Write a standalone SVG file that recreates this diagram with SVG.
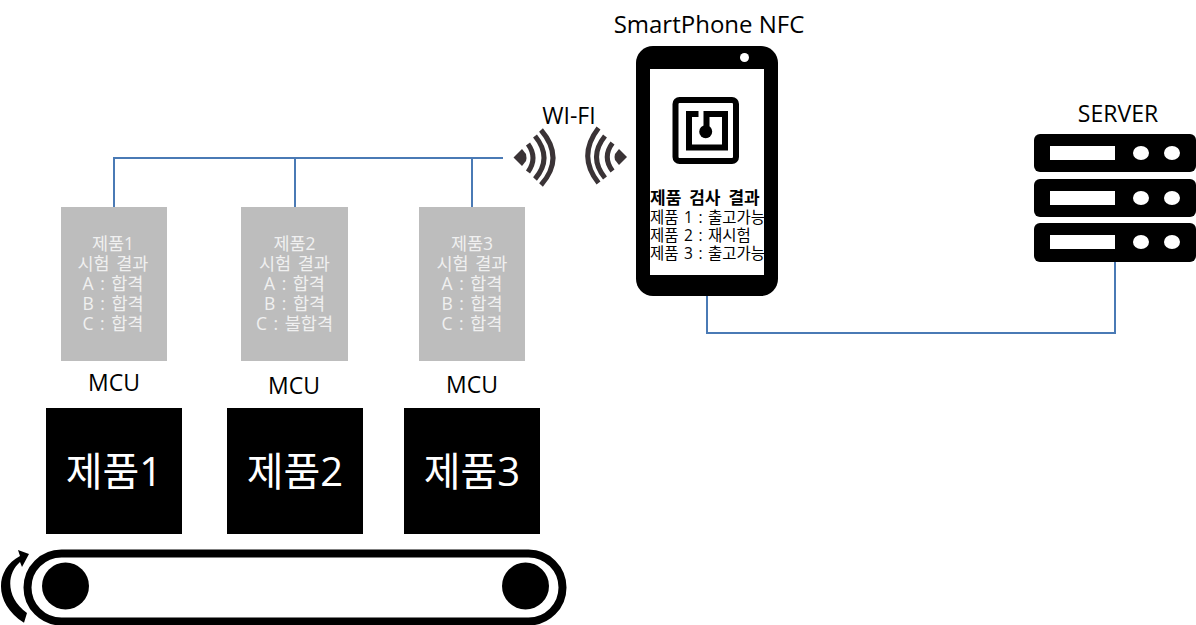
<svg xmlns="http://www.w3.org/2000/svg" width="1196" height="625" viewBox="0 0 1196 625">
<style>
text{font-family:"Open Sans","Noto Sans CJK KR","Noto Sans",sans-serif;text-anchor:middle}
.lbl{font-size:23px;fill:#000}
.mcu{fill:#bdbdbd}
.t{font-size:17.500px;fill:#f0f0f0;word-spacing:2px}
.big{font-size:40px;fill:#fff}
.p{font-size:15.500px;fill:#000;text-anchor:start;word-spacing:1.500px}
.h{font-size:17px;font-weight:700;word-spacing:3.500px}
.con{fill:none;stroke:#4a7ab5;stroke-width:2}
.arc{fill:none;stroke:#3a3336;stroke-width:5}
</style>
<rect width="1196" height="625" fill="#fff"/>
<g id="connectors">
<path class="con" d="M114 207V158H503M295 158V207M472 158V207"/>
<path class="con" d="M707 296V333H1115V262"/>
</g>
<g id="wifi-left">
<path d="M513.500 157.500L522 149L526 154Q527 158 526 161L522 166Z" fill="#3a3336"/>
<path class="arc" d="M528 144Q538 158 528 172"/>
<path class="arc" d="M535 136Q553 158 535 179"/>
<path class="arc" d="M541 130Q565 158 541 185"/>
</g>
<g id="wifi-right">
<path d="M627 157L619 149L615 154Q614 157 615 160L619 165Z" fill="#3a3336"/>
<path class="arc" d="M612.500 143Q602 157 612.500 171"/>
<path class="arc" d="M605 136Q588 157 605 178"/>
<path class="arc" d="M598.500 128Q577 156 598.500 183"/>
</g>
<g id="wifi-label"><text class="lbl" x="569" y="124">WI-FI</text></g>
<g id="phone">
<text class="lbl" x="709" y="33" style="font-size:24px">SmartPhone NFC</text>
<rect x="636" y="46" width="142" height="250" rx="17" fill="#000"/>
<rect x="650" y="69" width="114" height="206" fill="#fff"/>
<circle cx="744.500" cy="57.500" r="4.500" fill="#fff"/>
<rect x="675.500" y="100" width="60.500" height="61" rx="4" fill="none" stroke="#000" stroke-width="6"/>
<path d="M698.500 114H689V147.500H725V114H706.500V130" fill="none" stroke="#000" stroke-width="6"/>
<circle cx="705.700" cy="131.700" r="6.500" fill="#000"/>
<text class="p"><tspan class="h" x="650" y="204">제품 검사 결과</tspan><tspan x="650" y="223">제품 1 : 출고가능</tspan><tspan x="650" y="241">제품 2 : 재시험</tspan><tspan x="650" y="259">제품 3 : 출고가능</tspan></text>
</g>
<g id="server">
<text class="lbl" x="1118" y="122">SERVER</text>
<g id="server-1"><rect x="1034" y="134" width="162" height="38" rx="6" fill="#000"/><rect x="1050" y="146" width="65" height="14" fill="#fff"/><ellipse cx="1141" cy="153" rx="8" ry="7" fill="#fff"/><ellipse cx="1172" cy="153" rx="8" ry="7" fill="#fff"/></g>
<g id="server-2"><rect x="1034" y="179" width="162" height="38" rx="6" fill="#000"/><rect x="1050" y="191" width="65" height="14" fill="#fff"/><ellipse cx="1141" cy="198" rx="8" ry="7" fill="#fff"/><ellipse cx="1172" cy="198" rx="8" ry="7" fill="#fff"/></g>
<g id="server-3"><rect x="1034" y="223" width="162" height="39" rx="6" fill="#000"/><rect x="1050" y="235" width="65" height="14" fill="#fff"/><ellipse cx="1141" cy="242" rx="8" ry="7" fill="#fff"/><ellipse cx="1172" cy="242" rx="8" ry="7" fill="#fff"/></g>
</g>
<g id="mcu1"><rect class="mcu" x="61" y="207" width="106" height="154"/>
<text class="t"><tspan x="113" y="250">제품1</tspan><tspan x="113" y="270">시험 결과</tspan><tspan x="113" y="290">A : 합격</tspan><tspan x="113" y="310">B : 합격</tspan><tspan x="113" y="330">C : 합격</tspan></text>
<text class="lbl" x="114" y="391">MCU</text></g>
<g id="mcu2"><rect class="mcu" x="241" y="207" width="107" height="154"/>
<text class="t"><tspan x="294.500" y="250">제품2</tspan><tspan x="294.500" y="270">시험 결과</tspan><tspan x="294.500" y="290">A : 합격</tspan><tspan x="294.500" y="310">B : 합격</tspan><tspan x="294.500" y="330">C : 불합격</tspan></text>
<text class="lbl" x="294" y="394">MCU</text></g>
<g id="mcu3"><rect class="mcu" x="419" y="207" width="106" height="154"/>
<text class="t"><tspan x="472" y="250">제품3</tspan><tspan x="472" y="270">시험 결과</tspan><tspan x="472" y="290">A : 합격</tspan><tspan x="472" y="310">B : 합격</tspan><tspan x="472" y="330">C : 합격</tspan></text>
<text class="lbl" x="472" y="393">MCU</text></g>
<g id="product1"><rect x="46" y="408" width="136" height="126" fill="#000"/><text class="big" x="114" y="486">제품1</text></g>
<g id="product2"><rect x="227" y="408" width="136" height="126" fill="#000"/><text class="big" x="295" y="486">제품2</text></g>
<g id="product3"><rect x="404" y="408" width="136" height="126" fill="#000"/><text class="big" x="472" y="486">제품3</text></g>
<g id="conveyor">
<rect x="27.500" y="553.500" width="535" height="68" rx="34" fill="#fff" stroke="#000" stroke-width="8"/>
<circle cx="65.500" cy="586" r="23.500" fill="#000"/>
<circle cx="525.500" cy="586" r="23.500" fill="#000"/>
<path d="M24 622.700C-6 604-6 570 20 556L18 550L29 554L22 567L20 562C6 574 6 598 27 613Z" fill="#000"/>
</g>
</svg>
